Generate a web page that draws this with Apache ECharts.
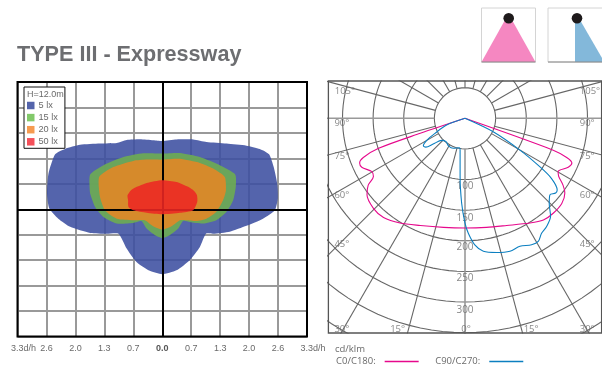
<!DOCTYPE html>
<html><head><meta charset="utf-8">
<style>html,body{margin:0;padding:0;background:#fff}#c{width:602px;height:366px}</style>
<script src="https://cdn.jsdelivr.net/npm/echarts@6/dist/echarts.min.js"></script>
</head><body><div id="c"></div>
<script>
const tickLabels=['3.3d/h','2.6','2.0','1.3','0.7','0.0','0.7','1.3','2.0','2.6','3.3d/h'];
const lux5=[[0,2.68],[.49,2.74],[1.07,2.74],[1.53,2.64],[2.22,2.58],[2.91,2.5],[3.37,2.37],[3.69,2.16],[3.85,1.66],[3.97,1.01],[3.99,.42],[3.89,-.04],[3.48,-.37],[2.91,-.65],[2.33,-.88],[1.76,-.96],[1.51,-.96],[1.3,-1.48],[.95,-2],[.49,-2.4],[0,-2.55],[-.43,-2.42],[-.89,-2.07],[-1.23,-1.54],[-1.51,-.96],[-1.92,-.96],[-2.49,-.93],[-3.18,-.69],[-3.59,-.37],[-3.9,.03],[-3.98,.62],[-3.93,1.4],[-3.7,2.16],[-3.36,2.37],[-2.84,2.53],[-2.15,2.58],[-1.57,2.6],[-1.23,2.72],[-.77,2.75],[-.31,2.71]];
const lux15=[[0,2.19],[.61,2.21],[1.3,2.05],[1.99,1.73],[2.52,1.37],[2.54,.88],[2.45,.35],[2.22,-.1],[1.87,-.43],[1.41,-.56],[.95,-.5],[.72,-.46],[.55,-.76],[.26,-1.02],[0,-1.13],[-.25,-1.02],[-.54,-.76],[-.71,-.47],[-1,-.54],[-1.57,-.56],[-2.03,-.3],[-2.32,.09],[-2.49,.62],[-2.51,.88],[-2.49,1.37],[-2.03,1.73],[-1.34,2.05],[-.66,2.2]];
const lux20=[[0,1.95],[.61,1.98],[1.3,1.82],[1.76,1.6],[2.16,1.27],[2.2,.75],[2.1,.35],[1.87,-.1],[1.53,-.37],[1.18,-.46],[.84,-.43],[.61,-.43],[.32,-.67],[0,-.8],[-.31,-.67],[-.6,-.43],[-1,-.43],[-1.57,-.37],[-1.98,-.04],[-2.15,.48],[-2.18,1.27],[-1.69,1.66],[-1,1.9],[-.54,1.95]];
const lux50=[[0,1.14],[.49,1.07],[.89,.88],[1.1,.72],[1.2,.55],[1.21,.29],[1.07,-.04],[.61,-.14],[0,-.2],[-.54,-.14],[-1.0,-.04],[-1.17,.1],[-1.18,.35],[-1.2,.55],[-1.05,.78],[-.54,1.03]];
const c0c180=[[0,0],[144,-52],[166,-64],[174.5,-73],[168.5,-80],[152,-87],[153,-95],[160,-109],[163,-122],[158,-139],[144,-155],[128,-166],[106,-171],[68,-175],[35,-178],[0,-179],[-35,-178],[-73,-175],[-106,-171],[-133,-162],[-149.5,-147],[-160,-125],[-158,-109],[-149.5,-95],[-152,-87],[-168.5,-80],[-172,-73],[-166,-64],[-141,-49],[-73,-24.5],[0,0]];
const c90c270=[[0,0],[46,-22],[89.7,-52],[122,-79],[141,-98],[150.5,-117],[148,-122],[138.6,-125],[137.5,-139],[139.7,-160],[133,-177],[125,-187.5],[119.6,-201],[108.7,-206.5],[89.7,-209],[73.4,-217],[51.6,-219],[30,-217],[16,-206.5],[5.4,-187.5],[0,-171],[-5.4,-139],[-8,-95],[-8,-52],[-9,-48],[-19,-49],[-27,-45],[-31,-38],[-38,-36],[-52,-42],[-64,-47],[-68,-45],[-62.5,-36],[-49,-24.5],[-30,-11],[0,0]];
const ringValues=[50,100,150,200,250,300,350,400];
const spokeAngles=[-165,-150,-135,-120,-105,-90,-75,-60,-45,-30,-15,0,15,30,45,60,75,90,105,120,135,150,165,180];
const cdLabels=[[100,-110],[150,-163],[200,-211],[250,-261],[300,-313]];
const angleLabels=[['105°',-196,44],['105°',204,44],['90°',-201,-8],['90°',199.5,-8],['75°',-201,-62.5],['75°',199.5,-62.5],['60°',-201,-125.5],['60°',199.5,-125.5],['45°',-201,-206.5],['45°',199.5,-206.5],['30°',-201,-344],['30°',199.5,-344],['15°',-110,-344],['15°',108,-344],['0°',1.6,-344]];
const contours=[
 {name:'5 lx',pts:lux5,fill:'#3c4fa0',key:'#5464ab'},
 {name:'15 lx',pts:lux15,fill:'#6dae50',key:'#82c96a'},
 {name:'20 lx',pts:lux20,fill:'#e58624',key:'#f69b50'},
 {name:'50 lx',pts:lux50,fill:'#ed2723',key:'#f4505a'}];
const grey='#666', txt='#6a6a6a';
const series=[];
contours.forEach((c,i)=>series.push({
  name:c.name,type:'custom',coordinateSystem:'cartesian2d',xAxisIndex:0,yAxisIndex:0,silent:true,z:2+i,
  itemStyle:{color:c.key},data:c.pts,
  renderItem:(p,api)=>p.dataIndex!==0?null:({type:'polygon',
    shape:{points:c.pts.map(q=>api.coord(q)),smooth:0.2},
    style:{fill:c.fill,opacity:.88}})
}));
series.push({type:'line',xAxisIndex:0,yAxisIndex:0,data:[],silent:true,z:9,
  markLine:{silent:true,symbol:'none',label:{show:false},animation:false,
    lineStyle:{color:'#000',width:2,type:'solid'},data:[{xAxis:0},{yAxis:0}]}});
const polarPt=(r,deg)=>[r*Math.sin(deg*Math.PI/180),-r*Math.cos(deg*Math.PI/180)];
ringValues.forEach(r=>{
  const d=[];for(let a=0;a<=360;a+=3)d.push(polarPt(r,a));
  series.push({type:'line',xAxisIndex:1,yAxisIndex:1,data:d,symbol:'none',silent:true,clip:true,z:2,
    lineStyle:{color:grey,width:1.1}});
});
spokeAngles.forEach(a=>{
  const main=a===0||a===90||a===-90;
  series.push({type:'line',xAxisIndex:1,yAxisIndex:1,data:[polarPt(50,a),polarPt(480,a)],symbol:'none',silent:true,clip:true,z:2,
    lineStyle:{color:main?'#999':grey,width:main?1.6:1.1}});
});
series.push({type:'scatter',xAxisIndex:1,yAxisIndex:1,silent:true,z:4,symbolSize:1,itemStyle:{color:'transparent'},
  data:cdLabels.map(d=>({value:[0,d[1]],name:String(d[0])})),
  label:{show:true,position:'inside',formatter:'{b}',color:txt,fontFamily:'Open Sans',fontSize:10}});
series.push({type:'scatter',xAxisIndex:1,yAxisIndex:1,silent:true,z:4,symbolSize:1,itemStyle:{color:'transparent'},
  data:angleLabels.map(d=>({value:[d[1],d[2]],name:d[0]})),
  label:{show:true,position:'inside',formatter:'{b}',color:txt,fontFamily:'Open Sans',fontSize:9.5}});
series.push({name:'C0/C180:',type:'line',xAxisIndex:1,yAxisIndex:1,data:c0c180,symbol:'none',smooth:0.3,silent:true,z:6,
  lineStyle:{color:'#e6088c',width:1.1},itemStyle:{color:'#e6088c'}});
series.push({name:'C90/C270:',type:'line',xAxisIndex:1,yAxisIndex:1,data:c90c270,symbol:'none',smooth:0.3,silent:true,z:7,
  lineStyle:{color:'#0c7fc0',width:1.1},itemStyle:{color:'#0c7fc0'}});
const option={
  animation:false,backgroundColor:'#fff',
  title:{text:'TYPE III - Expressway',left:17,top:44.5,padding:0,
    textStyle:{fontFamily:'Liberation Sans',fontWeight:'bold',fontSize:21.6,color:'#6d6e71'}},
  legend:[
   {left:24,top:87,orient:'vertical',icon:'rect',itemWidth:7.5,itemHeight:7.5,itemGap:3.1,padding:[14,7,2,3],
    backgroundColor:'#fff',borderColor:'#111',borderWidth:1,z:20,selectedMode:false,
    textStyle:{fontFamily:'Liberation Sans',fontSize:9.2,color:txt,padding:[0,0,0,-1]},
    data:contours.map(c=>({name:c.name,itemStyle:{color:c.key}}))},
   {left:336,top:356.5,orient:'horizontal',icon:'rect',align:'right',itemWidth:34,itemHeight:1.4,itemGap:16.5,padding:0,selectedMode:false,
    textStyle:{fontFamily:'Open Sans',fontSize:9.5,color:txt,padding:[0,4,0,0]},
    data:['C0/C180:','C90/C270:']}],
  grid:[
   {left:17.5,top:82,width:289.5,height:254.5,show:true,borderColor:'#000',borderWidth:2,backgroundColor:'transparent',z:1},
   {left:328.4,top:81,width:273.2,height:252,show:false}],
  xAxis:[
   {gridIndex:0,type:'value',min:-5,max:5,interval:1,axisLine:{show:false},axisTick:{show:false},
    splitLine:{show:true,lineStyle:{color:'#999',width:2}},
    axisLabel:{margin:8,color:txt,fontFamily:'Liberation Sans',fontSize:9,showMinLabel:true,showMaxLabel:true,hideOverlap:false,
      formatter:v=>{const s=tickLabels[v+5];return v===0?`{b|${s}}`:Math.abs(v)===5?`{e|${s}}`:s;},
      rich:{b:{fontWeight:'bold',fontFamily:'Liberation Sans',fontSize:9,color:'#555'},
            e:{fontFamily:'Liberation Sans',fontSize:9,color:txt,padding:[0,0,0,12]}}}},
   {gridIndex:1,type:'value',min:-223,max:223,show:false}],
  yAxis:[
   {gridIndex:0,type:'value',min:-5,max:5,interval:1,axisLine:{show:false},axisTick:{show:false},axisLabel:{show:false},
    splitLine:{show:true,lineStyle:{color:'#999',width:2}}},
   {gridIndex:1,type:'value',min:-350.5,max:60.9,show:false}],
  graphic:[
   {type:'rect',shape:{x:328.4,y:81,width:273.2,height:252},style:{fill:'none',stroke:'#555',lineWidth:1.3},z:30,silent:true},
   {type:'text',x:27,y:90,z:30,style:{text:'H=12.0m',font:'9px "Liberation Sans"',fill:txt}},
   {type:'text',x:335,y:344,z:30,style:{text:'cd/klm',font:'9.5px "Open Sans"',fill:txt}},
   {type:'rect',shape:{x:481.5,y:8,width:54,height:54},style:{fill:'#fff',stroke:'#d4d4d4',lineWidth:1},z:30},
   {type:'polygon',shape:{points:[[505,20],[512,20],[535.5,62],[481.5,62]]},style:{fill:'#f587c1'},z:31},
   {type:'line',shape:{x1:481.5,y1:62,x2:535.5,y2:62},style:{stroke:'#888',lineWidth:1},z:32},
   {type:'circle',shape:{cx:508.7,cy:18.3,r:5.3},style:{fill:'#1e1a1b'},z:33},
   {type:'rect',shape:{x:548,y:8,width:56,height:54},style:{fill:'#fff',stroke:'#d4d4d4',lineWidth:1},z:30},
   {type:'polygon',shape:{points:[[575,20],[580,20],[602,58],[602,62],[575,62]]},style:{fill:'#83b8da'},z:31},
   {type:'line',shape:{x1:548,y1:62,x2:602,y2:62},style:{stroke:'#888',lineWidth:1},z:32},
   {type:'circle',shape:{cx:577,cy:18.3,r:5.3},style:{fill:'#1e1a1b'},z:33}
  ],
  series
};
echarts.init(document.getElementById('c'),null,{renderer:'canvas'}).setOption(option);
</script></body></html>
